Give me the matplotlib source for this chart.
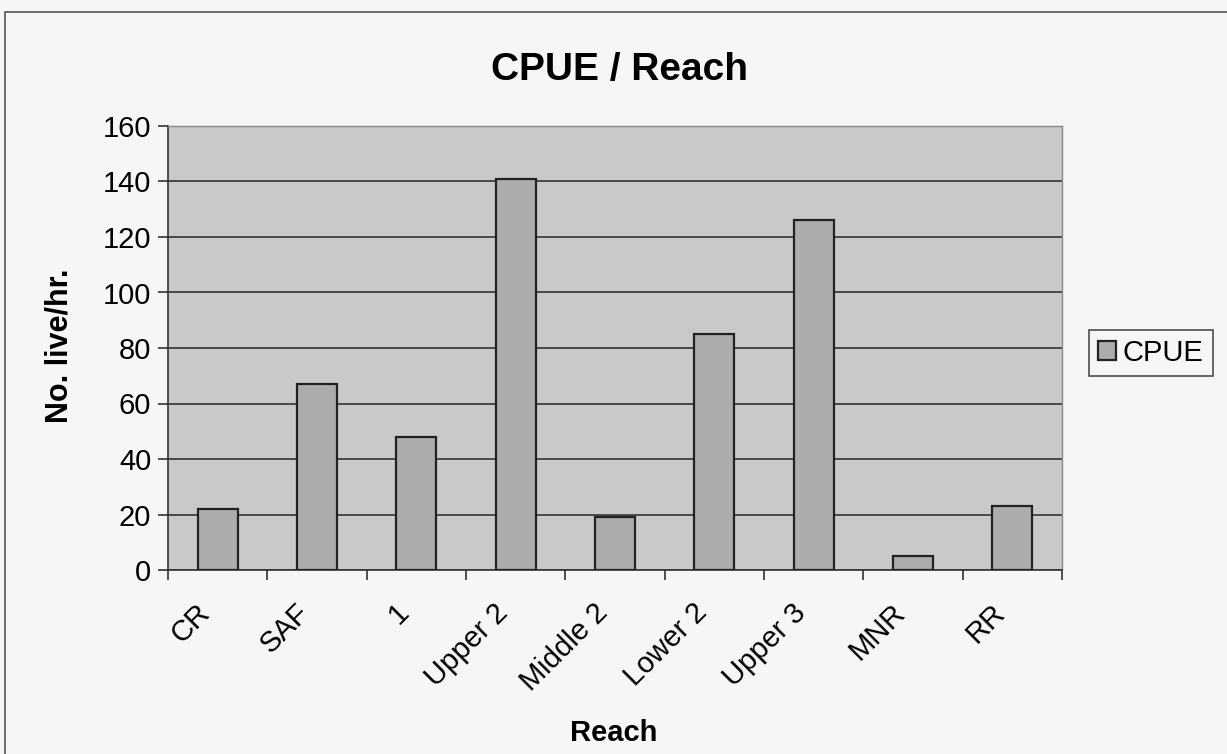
import matplotlib.pyplot as plt
import matplotlib.transforms as mtransforms
import numpy as np
from matplotlib.patches import Rectangle

plt.rcParams['font.family'] = ['Liberation Sans', 'DejaVu Sans']

reaches = ["CR", "SAF", "1", "Upper 2", "Middle 2", "Lower 2", "Upper 3", "MNR", "RR"]
cpue = [22, 67, 48, 141, 19, 85, 126, 5, 23]
y_ticks = [0, 20, 40, 60, 80, 100, 120, 140, 160]

W, H = 1227, 754
fig = plt.figure(figsize=(W / 100, H / 100), dpi=100)
fig.patch.set_facecolor("#f6f6f4")

# outer chart border (Excel chart area)
fig.patches.append(Rectangle((5 / W, -0.01), 1.1, 1 - 12 / H + 0.01, transform=fig.transFigure,
                             fill=False, edgecolor="#555555", linewidth=1.2))

left, right, top, bottom = 168, 1062, 126, 570
ax = fig.add_axes([left / W, 1 - bottom / H, (right - left) / W, (bottom - top) / H])
ax.set_facecolor("#c9c9c9")

x = np.arange(len(reaches))
ax.bar(x, cpue, width=0.4, color="#acacac", edgecolor="#222222", linewidth=1.6,
       label="CPUE", zorder=3)

ax.set_xlim(-0.5, len(reaches) - 0.5)
ax.set_ylim(0, 160)
ax.set_yticks(y_ticks)
ax.yaxis.grid(True, color="#333333", linewidth=1.2, zorder=1)
ax.set_axisbelow(True)

ax.set_xticks(np.arange(len(reaches) + 1) - 0.5)
ax.set_xticklabels([])
ax.set_xticks(x, minor=True)
ax.set_xticklabels(reaches, minor=True, rotation=45, ha="right", va="top",
                   rotation_mode="anchor", fontsize=21)
ax.tick_params(axis="x", which="minor", length=0, pad=14)
ax.tick_params(axis="x", which="major", length=7, width=1.2, color="#333333")
ax.tick_params(axis="y", length=7, width=1.2, color="#333333", labelsize=21, pad=5)

# Excel puts the end of a slanted label a bit left of the category centre
shift = mtransforms.ScaledTranslation(-0.22, -0.09, fig.dpi_scale_trans)
for lab in ax.get_xticklabels(minor=True):
    lab.set_transform(lab.get_transform() + shift)

for s in ["left", "bottom"]:
    ax.spines[s].set_color("#333333")
    ax.spines[s].set_linewidth(1.2)
for s in ["top", "right"]:
    ax.spines[s].set_color("#888888")
    ax.spines[s].set_linewidth(1.0)

fig.text(60 / W, 1 - 346 / H, "No. live/hr.", fontsize=22, fontweight="bold",
         rotation=90, ha="center", va="center")
fig.text(614 / W, 1 - 733 / H, "Reach", fontsize=21, fontweight="bold",
         ha="center", va="center")
fig.text(619 / W, 1 - 70 / H, "CPUE / Reach", fontsize=28, fontweight="bold",
         ha="center", va="center")

leg = fig.legend(loc="center", bbox_to_anchor=(1151 / W, 1 - 353 / H), fontsize=21,
                 frameon=True, fancybox=False, edgecolor="#222222", handlelength=0.6,
                 handleheight=0.6, handletextpad=0.25, borderpad=0.3, borderaxespad=0)
leg.get_frame().set_linewidth(1.2)
leg.get_frame().set_facecolor("#f6f6f4")

fig.savefig("out.png", dpi=100, facecolor=fig.get_facecolor())
